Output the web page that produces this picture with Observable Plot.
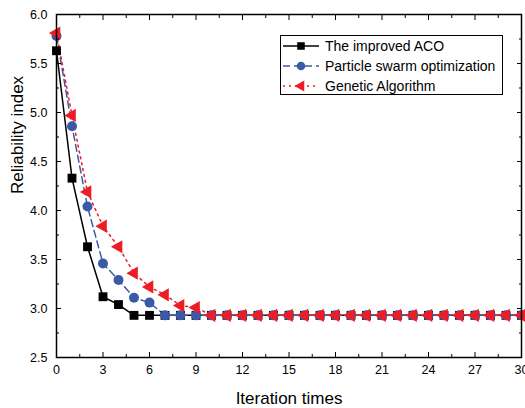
<!DOCTYPE html>
<html><head><meta charset="utf-8">
<script src="https://cdn.jsdelivr.net/npm/d3@7"></script>
<script src="https://cdn.jsdelivr.net/npm/@observablehq/plot@0.6"></script>
<style>
body{margin:0;background:#fff;font-family:"Liberation Sans",Arial,sans-serif}
#wrap{position:relative;width:525px;height:408px}
#legend{position:absolute;left:280px;top:35px;width:221px;height:58px;border:1px solid #000;background:#fff;font-size:14px;color:#000}
.row{position:absolute;left:0;height:20px;display:flex;align-items:center}
.row svg{display:block}
.row span{margin-left:6px;white-space:nowrap}
</style>
</head><body><div id="wrap"></div>
<script>
const iterations = [0,1,2,3,4,5,6,7,8,9,10,11,12,13,14,15,16,17,18,19,20,21,22,23,24,25,26,27,28,29,30];
const acoValues = [5.63,4.33,3.63,3.12,3.04,2.93,2.93,2.93,2.93,2.93,2.93,2.93,2.93,2.93,2.93,2.93,2.93,2.93,2.93,2.93,2.93,2.93,2.93,2.93,2.93,2.93,2.93,2.93,2.93,2.93,2.93];
const psoValues = [5.78,4.86,4.04,3.46,3.29,3.11,3.06,2.93,2.93,2.93,2.93,2.93,2.93,2.93,2.93,2.93,2.93,2.93,2.93,2.93,2.93,2.93,2.93,2.93,2.93,2.93,2.93,2.93,2.93,2.93,2.93];
const gaValues  = [5.81,4.97,4.19,3.84,3.63,3.36,3.22,3.14,3.03,3.01,2.93,2.93,2.93,2.93,2.93,2.93,2.93,2.93,2.93,2.93,2.93,2.93,2.93,2.93,2.93,2.93,2.93,2.93,2.93,2.93,2.93];
const seriesNames = ["The improved ACO","Particle swarm optimization","Genetic Algorithm"];
const xTitle = "Iteration times";
const yTitle = "Reliability index";
const xTicks = [0,3,6,9,12,15,18,21,24,27,30];
const xMinorTicks = [1.5,4.5,7.5,10.5,13.5,16.5,19.5,22.5,25.5,28.5];
const yTicks = [2.5,3.0,3.5,4.0,4.5,5.0,5.5,6.0];
const yMinorTicks = [2.75,3.25,3.75,4.25,4.75,5.25,5.75];

const colors = ["#000000","#3a5aa8","#ee1c25"];
const dashes = [null,"7,4","2,4"];
const symbols = ["square","circle","triangle"];
const radii = [5,5,4.9];
const rotates = [0,0,-90];

const allValues = [acoValues, psoValues, gaValues];
const data = allValues.flatMap((vals,s)=>iterations.map((x,i)=>({x, y: vals[i], s})));

const blank = () => "";
const marks = [];
allValues.forEach((vals,s)=>{
  const d = data.filter(e=>e.s===s);
  marks.push(Plot.line(d,{x:"x",y:"y",stroke:colors[s],strokeWidth:1.5,strokeDasharray:dashes[s]}));
});
allValues.forEach((vals,s)=>{
  const d = data.filter(e=>e.s===s);
  marks.push(Plot.dot(d,{x:"x",y:"y",symbol:()=>symbols[s],r:radii[s],fill:colors[s],stroke:"none",rotate:rotates[s]}));
});

const chart = Plot.plot({
  width:525, height:408,
  marginLeft:56, marginRight:4, marginTop:14, marginBottom:51,
  style:{fontFamily:"'Liberation Sans', Arial, sans-serif", background:"#fff", color:"#000"},
  x:{domain:[0,30]},
  y:{domain:[2.5,6]},
  symbol:{type:"identity"},
  marks:[
    ...marks,
    Plot.axisX({anchor:"bottom",ticks:xTicks,tickSize:-5,tickPadding:13,fontSize:12.5,label:null,tickFormat:d=>String(d)}),
    Plot.axisX({anchor:"bottom",ticks:xMinorTicks,tickSize:-3,tickFormat:blank,label:null}),
    Plot.axisX({anchor:"top",ticks:xTicks,tickSize:-5,tickFormat:blank,label:null}),
    Plot.axisX({anchor:"top",ticks:xMinorTicks,tickSize:-3,tickFormat:blank,label:null}),
    Plot.axisY({anchor:"left",ticks:yTicks,tickSize:-5,tickPadding:14,fontSize:12.5,label:null,tickFormat:d=>d.toFixed(1)}),
    Plot.axisY({anchor:"left",ticks:yMinorTicks,tickSize:-3,tickFormat:blank,label:null}),
    Plot.axisY({anchor:"right",ticks:yTicks,tickSize:-5,tickFormat:blank,label:null}),
    Plot.axisY({anchor:"right",ticks:yMinorTicks,tickSize:-3,tickFormat:blank,label:null}),
    Plot.frame({stroke:"#000",strokeWidth:1.5}),
    Plot.text([xTitle],{text:d=>d,frameAnchor:"bottom",dy:41,lineAnchor:"middle",fontSize:17,fill:"#000"}),
    Plot.text([yTitle],{text:d=>d,frameAnchor:"left",dx:-39,dy:8,rotate:-90,lineAnchor:"middle",fontSize:17,fill:"#000"})
  ]
});
document.getElementById("wrap").appendChild(chart);

// Legend
const legend = document.createElement("div");
legend.id = "legend";
seriesNames.forEach((name,s)=>{
  const row = document.createElement("div");
  row.className = "row";
  row.style.top = (s*20) + "px";
  const svg = d3.create("svg").attr("width",38).attr("height",20);
  svg.append("line").attr("x1",2).attr("x2",38).attr("y1",10).attr("y2",10)
    .attr("stroke",colors[s]).attr("stroke-width",1.5).attr("stroke-dasharray",dashes[s]);
  const sym = {square:d3.symbolSquare,circle:d3.symbolCircle,triangle:d3.symbolTriangle}[symbols[s]];
  const rr = radii[s]*0.85;
  svg.append("path").attr("d",d3.symbol(sym, Math.PI*rr*rr)())
    .attr("transform",`translate(20,10) rotate(${rotates[s]})`).attr("fill",colors[s]);
  row.appendChild(svg.node());
  const sp = document.createElement("span");
  sp.textContent = name;
  row.appendChild(sp);
  legend.appendChild(row);
});
document.getElementById("wrap").appendChild(legend);
</script>
</body></html>
